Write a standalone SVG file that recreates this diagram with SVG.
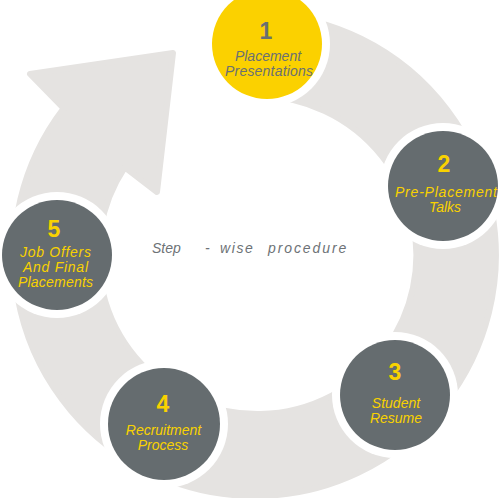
<svg xmlns="http://www.w3.org/2000/svg" width="500" height="498" viewBox="0 0 500 498">
<style>
.ring{fill:#e5e3e1;stroke:#e5e3e1;stroke-width:6;stroke-linejoin:round}
.halo{fill:#ffffff}
.dark{fill:#656c6f}
.yel{fill:#fbd100}
.num{font-family:"Liberation Sans",Arial,sans-serif;font-weight:bold;font-size:23px;text-anchor:middle}
.lbl{font-family:"Liberation Sans",Arial,sans-serif;font-style:italic;font-size:14px;text-anchor:middle}
.ondark{fill:#f9d200}
.onyel{fill:#6a7073}
.center{font-family:"Liberation Sans",Arial,sans-serif;font-style:italic;font-size:14px;fill:#6d7276}
</style>
<rect width="500" height="498" fill="#ffffff"/>
<g id="connectors">
<path class="ring" d="M 263.41 14.15 A 241 241 0 1 1 63.7 108.3 L 30 74 L 173 53 L 157 192 L 124.8 167.3 A 159 159 0 1 0 260.55 96.1 Z"/>
</g>
<g id="node1">
<circle class="halo" cx="267" cy="44" r="63"/>
<circle class="yel" cx="267" cy="44" r="55"/>
<text class="num onyel" x="266" y="39">1</text>
<text class="lbl onyel" x="268" y="61">Placement</text>
<text class="lbl onyel" x="269" y="76" textLength="88">Presentations</text>
</g>
<g id="node2">
<circle class="halo" cx="443" cy="186" r="63"/>
<circle class="dark" cx="443" cy="186" r="55"/>
<text class="num ondark" x="444" y="172">2</text>
<text class="lbl ondark" x="446" y="197" textLength="102">Pre-Placement</text>
<text class="lbl ondark" x="445" y="212">Talks</text>
</g>
<g id="node3">
<circle class="halo" cx="395" cy="395" r="63"/>
<circle class="dark" cx="395" cy="395" r="55"/>
<text class="num ondark" x="395" y="380">3</text>
<text class="lbl ondark" x="396" y="408">Student</text>
<text class="lbl ondark" x="396" y="423">Resume</text>
</g>
<g id="node4">
<circle class="halo" cx="164" cy="424" r="64"/>
<circle class="dark" cx="164" cy="424" r="56"/>
<text class="num ondark" x="163" y="412">4</text>
<text class="lbl ondark" x="163.5" y="435">Recruitment</text>
<text class="lbl ondark" x="163" y="450">Process</text>
</g>
<g id="node5">
<circle class="halo" cx="57" cy="255" r="63"/>
<circle class="dark" cx="57" cy="255" r="55"/>
<text class="num ondark" x="54" y="237">5</text>
<text class="lbl ondark" x="55.5" y="257" textLength="71">Job Offers</text>
<text class="lbl ondark" x="55.5" y="272" textLength="65">And Final</text>
<text class="lbl ondark" x="55.5" y="287" textLength="75">Placements</text>
</g>
<g id="title">
<text class="center" y="253"><tspan x="152">Step</tspan><tspan x="205">-</tspan><tspan x="220" letter-spacing="1.6">wise</tspan><tspan x="268" letter-spacing="1.9">procedure</tspan></text>
</g>
</svg>
